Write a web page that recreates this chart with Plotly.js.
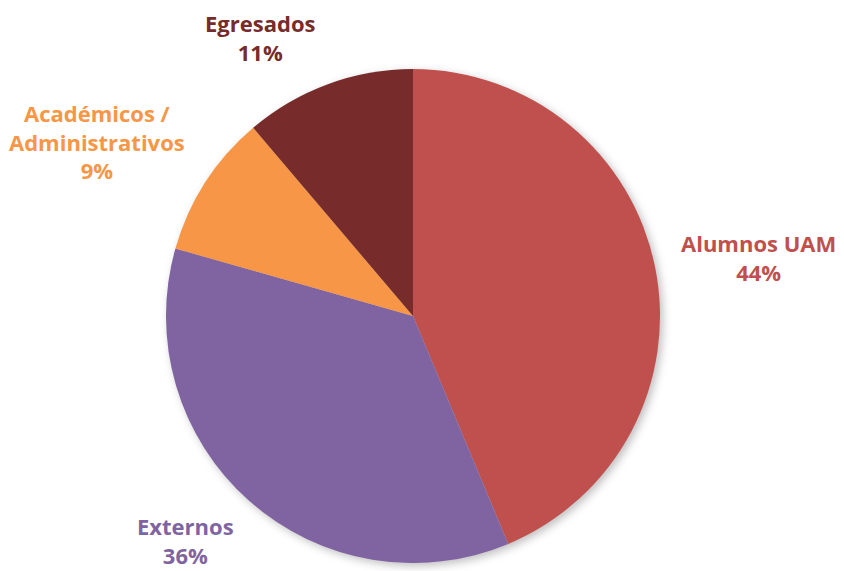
<!DOCTYPE html>
<html>
<head>
<meta charset="utf-8">
<script src="https://cdn.plot.ly/plotly-3.0.1.min.js"></script>
<style>
html,body{margin:0;padding:0;background:#fff;}
#chart{width:844px;height:571px;}
.pielayer{filter:drop-shadow(3px 3px 4px rgba(0,0,0,0.25));}
</style>
</head>
<body>
<div id="chart"></div>
<script>
var categories = ["Alumnos UAM", "Externos", "Académicos /<br>Administrativos", "Egresados"];
var values = [43.7, 35.7, 9.4, 11.2];
var colors = ["#C0504D", "#8064A2", "#F79646", "#772B2B"];

var total = values.reduce(function(a, b) { return a + b; }, 0);
var labelPos = [
  {x: 758, y: 257},
  {x: 185, y: 540},
  {x: 97, y: 142},
  {x: 260, y: 37}
];

var annotations = categories.map(function(c, i) {
  return {
    text: c + "<br>" + Math.round(values[i] / total * 100) + "%",
    x: labelPos[i].x / 844,
    y: 1 - labelPos[i].y / 571,
    xref: "paper", yref: "paper",
    xanchor: "center", yanchor: "middle",
    showarrow: false,
    align: "center",
    font: {family: "Open Sans", size: 22, color: colors[i], weight: "bold"}
  };
});

var data = [{
  type: "pie",
  labels: categories,
  values: values,
  sort: false,
  direction: "clockwise",
  rotation: 0,
  marker: {colors: colors, line: {width: 0}},
  textinfo: "none",
  hoverinfo: "label+percent",
  showlegend: false,
  domain: {x: [166 / 844, 660 / 844], y: [8 / 571, 502 / 571]}
}];

var layout = {
  width: 844, height: 571,
  margin: {l: 0, r: 0, t: 0, b: 0},
  paper_bgcolor: "#fff",
  showlegend: false,
  annotations: annotations
};

Plotly.newPlot("chart", data, layout, {displayModeBar: false});
</script>
</body>
</html>
